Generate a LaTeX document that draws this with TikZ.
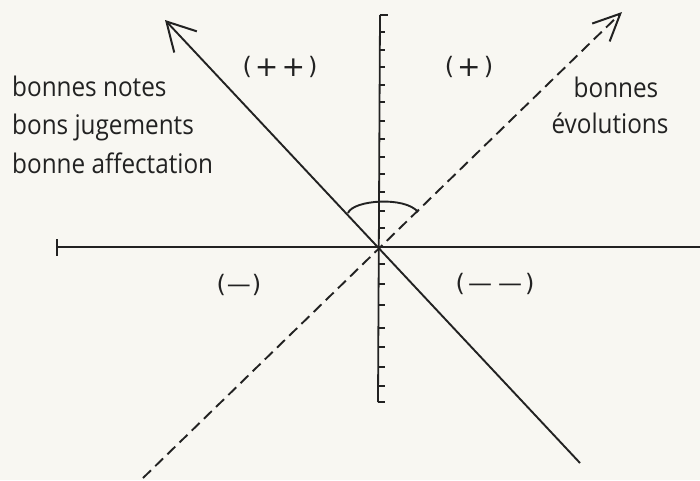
\documentclass[tikz,border=0pt]{standalone}
\usepackage{fontspec}
\setmainfont{Open Sans}
\newfontfamily\handfont[FakeStretch=0.9]{Open Sans}
\newfontfamily\signfont{DejaVu Sans}
\usetikzlibrary{arrows.meta}
\definecolor{ink}{HTML}{222222}
\definecolor{paper}{HTML}{F8F7F2}
\newcommand{\bigplus}{\raisebox{-1.5pt}{\scalebox{1.17}{+}}}
\tikzset{
  axisline/.style={draw=ink, line width=1.8pt},
  tickline/.style={draw=ink, line width=1.3pt},
  solidray/.style={draw=ink, line width=1.9pt},
  dashray/.style={draw=ink, line width=1.9pt, dash pattern=on 11pt off 6pt},
  hand/.style={text=ink, font=\handfont\fontsize{27}{30}\selectfont, inner sep=0pt},
  sign/.style={text=ink, font=\signfont\fontsize{24}{26}\selectfont, inner sep=0pt},
}
\begin{document}
\begin{tikzpicture}[x=1pt,y=-1pt]
\fill[paper] (0,0) rectangle (700,480);
\useasboundingbox (0,0) rectangle (700,480);
% axes
\coordinate (O) at (379,247);
\coordinate (Vtop) at (380,15);
\coordinate (Vbot) at (378,402);
\coordinate (Hl) at (57,247);
\coordinate (Hr) at (700,247);
\draw[axisline] (Vtop) -- (Vbot);
\draw[axisline] (Hl) -- (Hr);
\draw[tickline] (Vtop) -- ++(8,0);
\draw[tickline] (Vbot) -- ++(7,0);
\draw[tickline] (57,239) -- (57,256);
\foreach \y in {32,50,67,85,102,121,139,157,174,192,211,228,264,284,305,328,347,367,386}
  \draw[tickline] (379,\y) -- ++(6,0);
% rays
\coordinate (S1) at (165,20);
\coordinate (S2) at (580,463);
\coordinate (D1) at (143,478);
\coordinate (D2) at (622,12);
\draw[solidray, {Straight Barb[length=28pt,width=31pt,line width=2pt]}-] (S1) -- (S2);
\draw[dashray, -{Straight Barb[length=27pt,width=25pt,line width=2pt]}] (D1) -- (D2);
% angle arc
\coordinate (AL) at (348,213);
\coordinate (AR) at (418,212);
\draw[solidray] (AL) .. controls (353,200) and (405,196) .. (AR);
% labels
\node[hand, anchor=base west] (t1) at (12,96) {bonnes notes};
\node[hand, anchor=base west] (t2) at (12,134) {bons jugements};
\node[hand, anchor=base west] (t3) at (12,173) {bonne affectation};
\node[hand, anchor=base] (t4) at (616,97) {bonnes};
\node[hand, anchor=base] (t5) at (610,133) {évolutions};
\node[sign] (q1) at (280,67) {(\hspace{3pt}\bigplus\hspace{3pt}\bigplus\hspace{3pt})};
\node[sign] (q2) at (469,67) {(\hspace{3pt}\bigplus\hspace{3pt})};
\node[sign] (q3) at (239,285) {(\hspace{1pt}—\hspace{1pt})};
\node[sign] (q4) at (495,284) {(\hspace{3pt}—\hspace{6pt}—\hspace{3pt})};
\end{tikzpicture}
\end{document}
